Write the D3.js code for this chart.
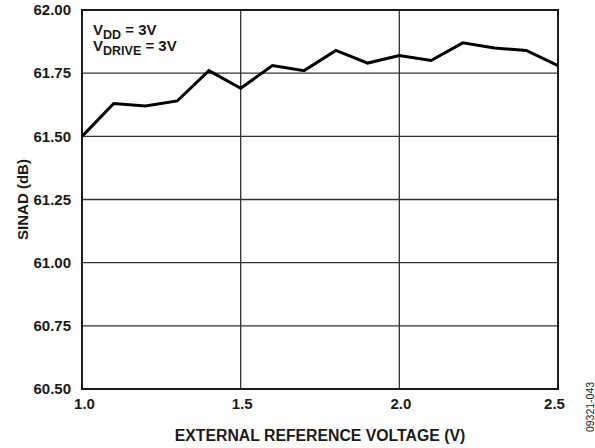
<!DOCTYPE html>
<html>
<head>
<meta charset="utf-8">
<script src="https://cdn.jsdelivr.net/npm/d3@7"></script>
<style>
  body { margin: 0; background: #fff; }
  text { font-family: "Liberation Sans", Arial, sans-serif; font-weight: bold; fill: #1a1a1a; }
</style>
</head>
<body>
<div id="chart"></div>
<script>
// external reference voltage (V)
var voltages = [1.0, 1.1, 1.2, 1.3, 1.4, 1.5, 1.6, 1.7, 1.8, 1.9, 2.0, 2.1, 2.2, 2.3, 2.4, 2.5];
// SINAD (dB)
var sinad = [61.50, 61.63, 61.62, 61.64, 61.76, 61.69, 61.78, 61.76, 61.84, 61.79, 61.82, 61.80, 61.87, 61.85, 61.84, 61.78];
var xTicks = [1.0, 1.5, 2.0, 2.5];
var yTicks = [60.50, 60.75, 61.00, 61.25, 61.50, 61.75, 62.00];

var W = 595, H = 448;
var margin = {top: 10, right: 37, bottom: 59, left: 82};
var width = W - margin.left - margin.right,
    height = H - margin.top - margin.bottom;
var fs = "15px";

var svg = d3.select("#chart").append("svg")
    .attr("width", W)
    .attr("height", H);

var g = svg.append("g")
    .attr("transform", "translate(" + margin.left + "," + margin.top + ")");

var x = d3.scaleLinear().domain([1.0, 2.5]).range([0, width]);
var y = d3.scaleLinear().domain([60.5, 62.0]).range([height, 0]);

// grid lines
g.append("g").selectAll("line.hgrid")
    .data(yTicks)
    .enter().append("line")
    .attr("x1", 0).attr("x2", width)
    .attr("y1", function(d) { return y(d); })
    .attr("y2", function(d) { return y(d); })
    .attr("stroke", "#333").attr("stroke-width", 1.3);

g.append("g").selectAll("line.vgrid")
    .data(xTicks)
    .enter().append("line")
    .attr("y1", 0).attr("y2", height)
    .attr("x1", function(d) { return x(d); })
    .attr("x2", function(d) { return x(d); })
    .attr("stroke", "#333").attr("stroke-width", 1.3);

// frame
g.append("rect")
    .attr("width", width).attr("height", height)
    .attr("fill", "none").attr("stroke", "#1a1a1a").attr("stroke-width", 2);

// y tick labels
var yAxis = d3.axisLeft(y).tickValues(yTicks).tickSize(0).tickPadding(11)
    .tickFormat(d3.format(".2f"));
g.append("g").call(yAxis)
    .call(function(s) { s.select(".domain").remove(); })
    .selectAll("text")
    .style("font-size", fs)
    .style("font-family", "Liberation Sans, Arial, sans-serif")
    .style("font-weight", "bold")
    .attr("fill", "#1a1a1a");

// x tick labels
var xAxis = d3.axisBottom(x).tickValues(xTicks).tickSize(0).tickPadding(9)
    .tickFormat(d3.format(".1f"));
g.append("g").attr("transform", "translate(0," + height + ")").call(xAxis)
    .call(function(s) { s.select(".domain").remove(); })
    .selectAll("text")
    .style("font-size", fs)
    .style("font-family", "Liberation Sans, Arial, sans-serif")
    .style("font-weight", "bold")
    .attr("fill", "#1a1a1a")
    .attr("dx", function(d) { return d === 2.5 ? -4 : (d === 1.0 ? 2 : 1); });

// data line
var line = d3.line()
    .x(function(d, i) { return x(voltages[i]); })
    .y(function(d) { return y(d); });

g.append("path")
    .datum(sinad)
    .attr("d", line)
    .attr("fill", "none")
    .attr("stroke", "#000")
    .attr("stroke-width", 3)
    .attr("stroke-linejoin", "miter");

// annotation
var ann = g.append("text").attr("x", 11).attr("y", 25).style("font-size", fs);
ann.append("tspan").text("V");
ann.append("tspan").attr("dy", 4).style("font-size", "12.5px").text("DD");
ann.append("tspan").attr("dy", -4).text(" = 3V");

var ann2 = g.append("text").attr("x", 11).attr("y", 41).style("font-size", fs);
ann2.append("tspan").text("V");
ann2.append("tspan").attr("dy", 4).style("font-size", "12.5px").text("DRIVE");
ann2.append("tspan").attr("dy", -4).text(" = 3V");

// axis titles
svg.append("text")
    .attr("x", margin.left + width / 2)
    .attr("y", 441)
    .attr("text-anchor", "middle")
    .style("font-size", "15.8px")
    .text("EXTERNAL REFERENCE VOLTAGE (V)");

svg.append("text")
    .attr("transform", "translate(28," + (margin.top + height / 2) + ") rotate(-90)")
    .attr("text-anchor", "middle")
    .style("font-size", fs)
    .text("SINAD (dB)");

// figure code
svg.append("text")
    .attr("transform", "translate(594,407) rotate(-90)")
    .attr("text-anchor", "middle")
    .style("font-size", "10.5px")
    .style("font-weight", "normal")
    .attr("fill", "#444")
    .text("09321-043");
</script>
</body>
</html>
